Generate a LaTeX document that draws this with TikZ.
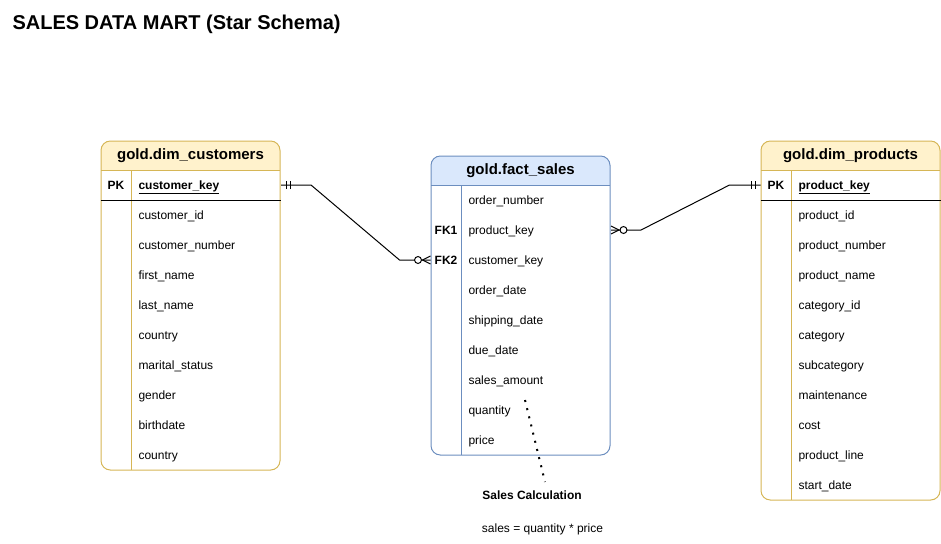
\documentclass[tikz,border=0pt]{standalone}
\usepackage{fontspec}
\setmainfont{Liberation Sans}
\usetikzlibrary{calc}

\definecolor{goldfill}{HTML}{FFF2CC}
\definecolor{goldline}{HTML}{D6B656}
\definecolor{bluefill}{HTML}{DAE8FC}
\definecolor{blueline}{HTML}{6C8EBF}

% table frame: x1, y1, x2, y2, header bottom, colour prefix
\newcommand{\tablebox}[6]{%
  \begin{scope}
    \clip[rounded corners=7pt] (#1,#2) rectangle (#3,#4);
    \fill[white] (#1,#2) rectangle (#3,#4);
    \fill[#6fill] (#1,#2) rectangle (#3,#5);
  \end{scope}
  \draw[#6line, rounded corners=7pt] (#1,#2) rectangle (#3,#4);
  \draw[#6line] (#1,#5) -- (#3,#5) (#1+30,#5) -- (#1+30,#4);
}

\begin{document}
\begin{tikzpicture}[x=0.75pt, y=-0.75pt, line width=0.75pt]
    \tikzset{
        tblhead/.style={font=\bfseries\fontsize{11.25}{13}\selectfont, inner sep=0pt},
        keycell/.style={font=\bfseries\fontsize{9}{11}\selectfont, minimum width=22.5pt, minimum height=22.5pt, inner sep=0pt},
        fieldtxt/.style={anchor=west, font=\fontsize{9}{11}\selectfont, text width=101.25pt, inner xsep=5.25pt, inner ysep=0pt,
            minimum height=22.5pt, text height=7.5pt, text depth=1.5pt, align=left},
        onemark/.pic={\draw (-5,-4) -- (-5,4) (-9,-4) -- (-9,4);},
        manymark/.pic={\draw (0,-4) -- (-8,0) -- (0,4); \draw[fill=white] (-12.5,0) circle[radius=2.6pt];},
    }
    \useasboundingbox (0,0) rectangle (941,543);

    \node[anchor=base west, font=\bfseries\fontsize{15}{18}\selectfont, inner sep=0pt] (title) at (12,29) {SALES DATA MART (Star Schema)};

    % customers
    \tablebox{101}{141}{280}{470}{170}{gold}
    \node[tblhead] (cust) at (190.5,155.5) {gold.dim\_customers};
    \node[keycell] (c-pk) at (116,185) {PK};
    \node[fieldtxt] (c-key) at (131,185) {\bfseries\underline{customer\_key}};
    \draw (c-pk.south west) -- (c-key.south east);
    \foreach \fld [count=\i] in {customer\_id, customer\_number, first\_name, last\_name, country, marital\_status, gender, birthdate, country}
        \node[fieldtxt] (c-\i) at (131,185+30*\i) {\fld};

    % facts
    \tablebox{431}{156}{610}{455}{185}{blue}
    \node[tblhead] (fact) at (520.5,170.5) {gold.fact\_sales};
    \node[keycell] (f-fk1) at (446,230) {FK1};
    \node[keycell] (f-fk2) at (446,260) {FK2};
    \foreach \fld [count=\i] in {order\_number, product\_key, customer\_key, order\_date, shipping\_date, due\_date, sales\_amount, quantity, price}
        \node[fieldtxt] (f-\i) at (461,170+30*\i) {\fld};

    % products
    \tablebox{761}{141}{940}{500}{170}{gold}
    \node[tblhead] (prod) at (850.5,155.5) {gold.dim\_products};
    \node[keycell] (p-pk) at (776,185) {PK};
    \node[fieldtxt] (p-key) at (791,185) {\bfseries\underline{product\_key}};
    \draw (p-pk.south west) -- (p-key.south east);
    \foreach \fld [count=\i] in {product\_id, product\_number, product\_name, category\_id, category, subcategory, maintenance, cost, product\_line, start\_date}
        \node[fieldtxt] (p-\i) at (791,185+30*\i) {\fld};

    % relations
    \draw (c-key.east) -- ++(30,0) -- ($(f-fk2.west)+(-31,0)$) -- (f-fk2.west);
    \pic[rotate=180] at (c-key.east) {onemark};
    \pic at (f-fk2.west) {manymark};
    \draw (f-2.east) -- ++(30,0) -- ($(p-pk.west)+(-31,0)$) -- (p-pk.west);
    \pic[rotate=180] at (f-2.east) {manymark};
    \pic at (p-pk.west) {onemark};

    % note
    \node[anchor=base, font=\bfseries\fontsize{9}{11}\selectfont, inner sep=0pt] (calc) at (532,499) {Sales Calculation};
    \node[anchor=base, font=\fontsize{9}{11}\selectfont, inner sep=0pt] (formula) at (542.5,532) {sales = quantity * price};
    \coordinate (qty-dot) at (525,400);
    \coordinate (calc-tip) at (545,482);
    \draw[line width=1.5pt, dash pattern=on 1.5pt off 4.8pt] (qty-dot) -- (calc-tip);
\end{tikzpicture}
\end{document}
